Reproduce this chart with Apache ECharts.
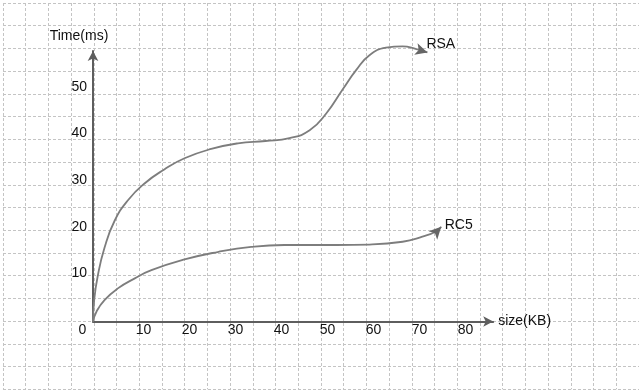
<!DOCTYPE html>
<html>
<head>
<meta charset="utf-8">
<script src="https://cdn.jsdelivr.net/npm/echarts@6/dist/echarts.min.js"></script>
<style>html,body{margin:0;padding:0;background:#fff;}#c{width:639px;height:390px;}</style>
</head>
<body>
<div id="c"></div>
<script>
// ---- data ----
const xTickValues = [0, 10, 20, 30, 40, 50, 60, 70, 80];
const yTickValues = [10, 20, 30, 40, 50];
const xName = 'size(KB)';
const yName = 'Time(ms)';
const seriesNames = ['RSA', 'RC5'];
const rsaX = [0, 0.25, 1.0, 2.5, 4.7, 7.6, 11.2, 15.5, 19.9, 25.7, 31.5, 37.5, 42.7, 47.1, 50.7, 54.3, 57.2, 60.1, 63.7, 67.3, 70.3, 72.7];
const rsaY = [0, 4.5, 9.6, 15.8, 21.6, 26.0, 29.6, 32.6, 35.0, 37.0, 38.2, 38.7, 39.3, 41.0, 44.6, 49.8, 53.9, 57.1, 58.7, 59.0, 58.4, 57.7];
const rc5X = [0, 0.8, 2.5, 5.4, 9.0, 12.7, 19.9, 27.1, 34.4, 41.6, 52.9, 60.1, 67.3, 71.6, 74.6, 75.7];
const rc5Y = [0, 2.2, 4.6, 7.1, 9.2, 11.0, 13.3, 14.9, 16.0, 16.4, 16.4, 16.5, 17.1, 18.2, 19.3, 20.3];

const FONT = 'Liberation Sans, Arial, sans-serif';
const curveColor = '#7d7d7d';
const arrowColor = '#666';

function buildData(xs, ys, rot) {
  return xs.map((x, i) => {
    if (i === xs.length - 1) {
      return { value: [x, ys[i]], symbol: 'arrow', symbolSize: [9, 12], symbolRotate: rot,
               itemStyle: { color: arrowColor } };
    }
    return { value: [x, ys[i]], symbol: 'none' };
  });
}

const chart = echarts.init(document.getElementById('c'), null, { renderer: 'canvas' });
const GW = 22.72;
chart.setOption({
  backgroundColor: '#ffffff',
  animation: false,
  textStyle: { fontFamily: FONT },
  grid: [
    { left: 3, top: 3, width: GW * 28, height: GW * 17 },
    { left: 93, top: 51, width: 400.2, height: 270.5 }
  ],
  xAxis: [
    { gridIndex: 0, type: 'value', min: 0, max: 28, interval: 1,
      axisLine: { show: false }, axisTick: { show: false }, axisLabel: { show: false },
      splitLine: { show: true, lineStyle: { color: '#c4c4c4', width: 1, type: [3, 2] } } },
    { gridIndex: 1, type: 'value', min: 0, max: 87, interval: 10,
      name: xName, nameLocation: 'end', nameGap: 5,
      nameTextStyle: { fontSize: 14, color: '#111', fontFamily: FONT, align: 'left', verticalAlign: 'middle' },
      axisLine: { show: true, lineStyle: { color: '#5e5e5e', width: 2 }, symbol: ['none', 'arrow'], symbolSize: [8, 10] },
      axisTick: { show: false },
      splitLine: { show: false },
      axisLabel: {
        show: true, margin: 2, color: '#111', fontSize: 14, fontFamily: FONT,
        customValues: xTickValues,
        formatter: v => v === 0 ? '{z|0}' : '{n|' + v + '}',
        rich: {
          z: { fontSize: 14, fontFamily: FONT, color: '#111', padding: [0, 21, 0, 0] },
          n: { fontSize: 14, fontFamily: FONT, color: '#111', padding: [0, 0, 0, 9] }
        }
      } }
  ],
  yAxis: [
    { gridIndex: 0, type: 'value', min: 0, max: 17, interval: 1, inverse: true,
      axisLine: { show: false }, axisTick: { show: false }, axisLabel: { show: false },
      splitLine: { show: true, lineStyle: { color: '#c4c4c4', width: 1, type: [3, 2] } } },
    { gridIndex: 1, type: 'value', min: 0, max: 58, interval: 10,
      name: yName, nameLocation: 'end', nameGap: 8,
      nameTextStyle: { fontSize: 14, color: '#111', fontFamily: FONT, align: 'center', padding: [0, 28, 0, 0] },
      axisLine: { show: true, lineStyle: { color: '#5e5e5e', width: 2 }, symbol: ['none', 'arrow'], symbolSize: [8, 10] },
      axisTick: { show: false },
      splitLine: { show: false },
      axisLabel: {
        show: true, margin: 6, color: '#111', fontSize: 14, fontFamily: FONT,
        customValues: yTickValues,
        formatter: v => v === 0 ? '' : '{n|' + v + '}',
        rich: { n: { fontSize: 14, fontFamily: FONT, color: '#111', padding: [0, 0, 3, 0] } }
      } }
  ],
  series: [
    { name: seriesNames[0], type: 'line', xAxisIndex: 1, yAxisIndex: 1, clip: false,
      smooth: 0.5, showSymbol: true,
      lineStyle: { color: curveColor, width: 1.8 }, itemStyle: { color: curveColor },
      data: buildData(rsaX, rsaY, -106),
      endLabel: { show: true, formatter: seriesNames[0], distance: 0, offset: [-1, -8.5],
                  color: '#111', fontSize: 14, fontFamily: FONT } },
    { name: seriesNames[1], type: 'line', xAxisIndex: 1, yAxisIndex: 1, clip: false,
      smooth: 0.5, showSymbol: true,
      lineStyle: { color: curveColor, width: 1.8 }, itemStyle: { color: curveColor },
      data: buildData(rc5X, rc5Y, -44),
      endLabel: { show: true, formatter: seriesNames[1], distance: 0, offset: [3.5, -1.5],
                  color: '#111', fontSize: 14, fontFamily: FONT } }
  ]
});
</script>
</body>
</html>
